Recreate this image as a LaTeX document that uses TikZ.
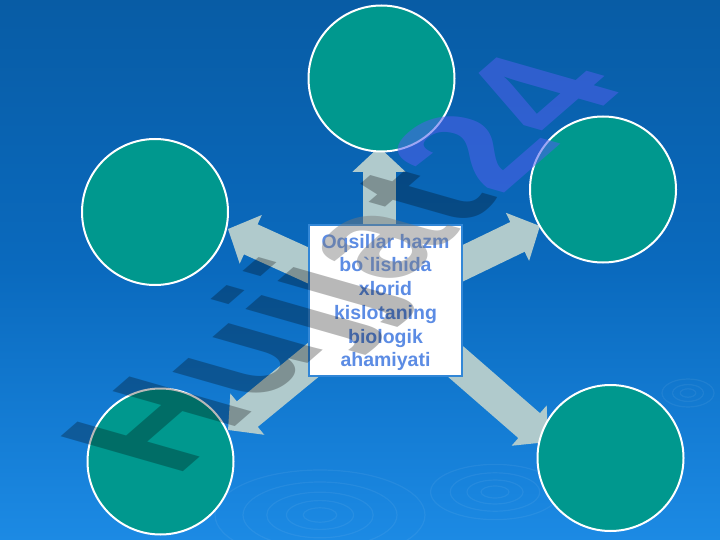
\documentclass[tikz,border=0pt]{standalone}
\usepackage{fontspec}
\usetikzlibrary{arrows.meta,calc}
\newfontfamily\boxfont{Liberation Sans}[Ligatures=TeXOff]
\definecolor{bgtop}{RGB}{8,92,165}
\definecolor{bgmid}{RGB}{10,106,190}
\definecolor{bgbot}{RGB}{28,138,228}
\definecolor{circfill}{RGB}{0,152,142}
\definecolor{arrowc}{RGB}{176,202,204}
\definecolor{txtc}{RGB}{92,140,228}
\definecolor{boxline}{RGB}{50,135,215}
\definecolor{wmblue}{RGB}{80,95,235}
\definecolor{wmgray}{RGB}{120,120,120}
\begin{document}
\begin{tikzpicture}[x=1pt,y=-1pt,
  bubble/.style={circle, draw=white, line width=2pt, fill=circfill,
    minimum size=146pt, inner sep=0pt},
  bigarrow/.style={draw=arrowc, line width=33pt,
    -{Triangle[width=52pt,length=25pt]}},
  ripple/.style={draw=white, opacity=0.06, line width=1.2pt}]
\useasboundingbox (0,0) rectangle (720,540);
% background
\fill[top color=bgtop, bottom color=bgbot, middle color=bgmid] (0,0) rectangle (720,540);
% ripples
\foreach \r in {12,24,38,55,75}{
  \draw[ripple] (320,515) ellipse ({\r*1.4} and {\r*0.6});}
\foreach \r in {10,20,32,46}{
  \draw[ripple] (495,492) ellipse ({\r*1.4} and {\r*0.6});}
\foreach \r in {6,12,20}{
  \draw[ripple] (688,393) ellipse ({\r*1.3} and {\r*0.7});}
% central box node
\node[draw=boxline, line width=1.5pt, fill=white, minimum width=153pt,
  minimum height=151pt, inner sep=0pt] (box) at (385.5,300.5) {};
% arrow tips
\coordinate (tT) at (379,147);
\coordinate (tUL) at (228,229);
\coordinate (tUR) at (540,226);
\coordinate (tLL) at (228,430);
\coordinate (tLR) at (548,442);
\draw[bigarrow] (box.center -| tT) -- (tT);
\draw[bigarrow] (box.center) -- (tUL);
\draw[bigarrow] (box.center) -- (tUR);
\draw[bigarrow] (box.center) -- (tLL);
\draw[bigarrow] (box.center) -- (tLR);
% box on top of arrow shafts
\node[draw=boxline, line width=1.5pt, fill=white, minimum width=153pt,
  minimum height=151pt, inner sep=0pt] (boxframe) at (box.center) {};
\node[inner sep=0pt, align=center, text=txtc,
  font=\boxfont\bfseries\fontsize{19.5}{23.7}\selectfont] (boxtext) at ($(box.center)+(0,2)$)
  {Oqsillar hazm\\ bo`lishida\\ xlorid\\ kislotaning\\ biologik\\ ahamiyati};
% circles
\node[bubble] (cT) at (381.5,78.5) {};
\node[bubble] (cUL) at (155,212) {};
\node[bubble] (cUR) at (603,189.5) {};
\node[bubble] (cLL) at (160.5,461.5) {};
\node[bubble] (cLR) at (610.5,458) {};
% watermark
\node[rotate=41, xslant=-0.65, inner sep=0pt,
  font=\boxfont\bfseries\fontsize{155}{155}\selectfont] (wm) at (357,268)
  {{\pgfsetfillopacity{0.28}\color{black}Hujj}{\pgfsetfillopacity{0.45}\color{wmgray}a}{\pgfsetfillopacity{0.28}\color{black}t}{\pgfsetfillopacity{0.55}\color{wmblue}24}};
\end{tikzpicture}
\end{document}
